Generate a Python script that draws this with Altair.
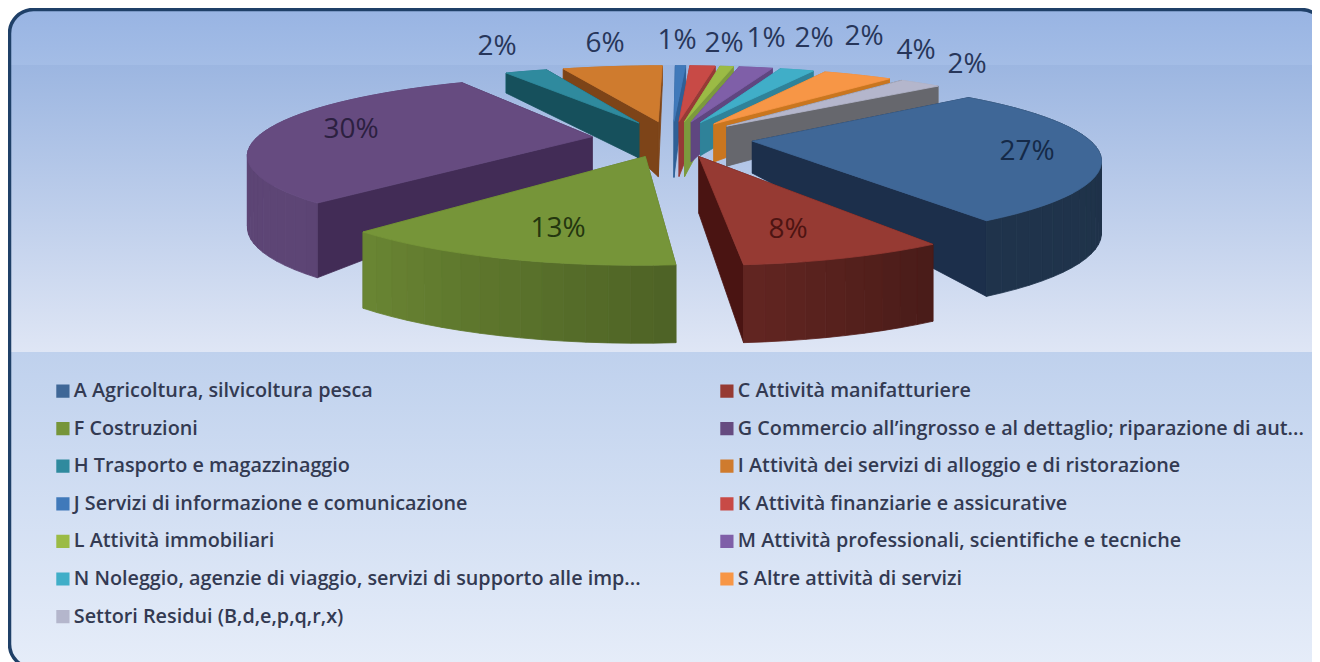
import math
import numpy as np
import pandas as pd
import altair as alt

# ---- chart data ----
categories = [
    "A Agricoltura, silvicoltura pesca", "C Attività manifatturiere", "F Costruzioni",
    "G Commercio all’ingrosso e al dettaglio; riparazione di aut...",
    "H Trasporto e magazzinaggio", "I Attività dei servizi di alloggio e di ristorazione",
    "J Servizi di informazione e comunicazione", "K Attività finanziarie e assicurative",
    "L Attività immobiliari", "M Attività professionali, scientifiche e tecniche",
    "N Noleggio, agenzie di viaggio, servizi di supporto alle imp...",
    "S Altre attività di servizi", "Settori Residui (B,d,e,p,q,r,x)",
]
# shares; percent_labels are the printed, rounded figures
values = [27.4, 7.6, 12.9, 30.1, 2.49, 5.9, 0.6, 1.5, 0.8, 2.0, 2.0, 4.1, 2.49]
percent_labels = ["27%", "8%", "13%", "30%", "2%", "6%", "1%", "2%", "1%", "2%", "2%", "4%", "2%"]
colors = ["#3f6797", "#963a33", "#769539", "#664b80", "#2f8a9e", "#cf7b2e", "#4079ba",
          "#c84a46", "#9bbb45", "#7f5fa8", "#40aec8", "#f79646", "#b4b6cc"]
wall_colors = ["#1c2f4b", "#4a1412", "#55692c", "#422c56", "#16505c", "#7d4418", "#2f5f96",
               "#963a36", "#7c9a3d", "#5f4680", "#2f8299", "#c9761f", "#66676d"]
label_colors = ["#152a48", "#4d1412", "#24360f", "#2c2040"] + ["#27365a"] * 9
apex_depth = [32, 57, 40, 35, 35, 55, 56, 55, 55, 40, 33, 38, 40]
label_x = [1027, 788, 558, 351, 497, 605, 677, 724, 766, 814, 864, 916, 967]
label_y = [152, 230, 229, 130, 47, 44, 41, 44, 39, 39, 37, 51, 65]

# ---- 3D pie geometry (angles clockwise from the back of the pie) ----
START, EXPLODE = 49.0, 0.24
CX, CY, AX, BY, KY, KX = 672.0, 138.5, 336.0, 75.0, 0.223, 0.20
draw_order = [5, 4, 6, 7, 8, 9, 10, 11, 12, 3, 0, 1, 2]


def shade(hex_color, f):
    r, g, b = (int(hex_color[i:i + 2], 16) for i in (1, 3, 5))
    return "#%02x%02x%02x" % (int(r * f), int(g * f), int(b * f))


def proj(u, v, d=0.0):
    return CX + AX * u / (1 - KX * v), CY + BY * v / (1 - KY * v) + d


def rim_depth(v):
    return float(np.interp(v, [-1.24, -0.9, 0, 1.24], [20, 20, 70, 78]))


faces, pid = [], 0


def add_face(points, fill, cat):
    global pid
    for i, (x, y) in enumerate(list(points) + [points[0]]):
        faces.append({"pid": pid, "seq": i, "px": x, "py": y, "fill": fill, "cat": cat})
    pid += 1


cum = np.cumsum([0] + values) * 100 / sum(values)
for idx in draw_order:
    a0 = START + cum[idx] * 3.6
    a1 = START + cum[idx + 1] * 3.6
    mid = math.radians((a0 + a1) / 2)
    ou, ov = EXPLODE * math.sin(mid), -EXPLODE * math.cos(mid)
    angs = np.linspace(a0, a1, max(2, int((a1 - a0) / 3) + 2))
    rim = [(ou + math.sin(math.radians(a)), ov - math.cos(math.radians(a))) for a in angs]
    sides = []
    for (u, v) in (rim[0], rim[-1]):
        pts = [proj(ou, ov), proj(u, v), proj(u, v, rim_depth(v)), proj(ou, ov, apex_depth[idx])]
        sides.append(((ov + v) / 2, pts, wall_colors[idx]))
    for j in range(len(rim) - 1):
        (u0, v0), (u1, v1) = rim[j], rim[j + 1]
        pts = [proj(u0, v0), proj(u1, v1), proj(u1, v1, rim_depth(v1)), proj(u0, v0, rim_depth(v0))]
        am = float(angs[j] + angs[j + 1]) / 2
        f = float(np.interp(am, [0, 150, 175, 225, 360], [0.48, 0.5, 0.66, 0.92, 0.92]))
        sides.append(((v0 + v1) / 2 + 0.001, pts, shade(colors[idx], f)))
    for _, pts, fill in sorted(sides, key=lambda t: t[0]):
        add_face(pts, fill, categories[idx])
    add_face([proj(ou, ov)] + [proj(u, v) for u, v in rim], colors[idx], categories[idx])
faces = pd.DataFrame(faces)

# ---- scales work in the picture's pixel frame ----
xs = alt.Scale(domain=[8, 1312], range=[0, 1304], nice=False, zero=False)
ys = alt.Scale(domain=[8, 662], range=[0, 654], nice=False, zero=False)
X = lambda f: alt.X(f, type="quantitative", scale=xs, axis=None)
Y = lambda f: alt.Y(f, type="quantitative", scale=ys, axis=None)


def grad(c0, c1):
    return alt.Gradient(gradient="linear", x1=0, x2=0, y1=0, y2=1,
                        stops=[alt.GradientStop(color=c0, offset=0), alt.GradientStop(color=c1, offset=1)])


def band(y0, y1, c0, c1, **kw):
    d = pd.DataFrame({"a": [9.5], "b": [1325], "c": [y0], "d": [y1]})
    return alt.Chart(d).mark_rect(fill=grad(c0, c1), clip=True, **kw).encode(
        x=X("a"), x2="b", y=Y("c"), y2="d")


bg = [
    band(9, 67, "#98b4e3", "#a4bde6", cornerRadiusTopLeft=24, cornerRadiusTopRight=24),
    band(65, 353, "#9cb6e1", "#dfe6f5"),
    band(352, 668, "#bfd1ed", "#e6edf9", cornerRadiusBottomLeft=24, cornerRadiusBottomRight=24),
]
border = alt.Chart(pd.DataFrame({"a": [9.5], "b": [1325], "c": [9.5], "d": [668]})).mark_rect(
    fill="transparent", stroke="#1f4068", strokeWidth=3.5, cornerRadius=24, clip=True
).encode(x=X("a"), x2="b", y=Y("c"), y2="d")

pie = alt.Chart(faces).mark_line(filled=True, strokeWidth=0.8, interpolate="linear").encode(
    x=X("px"), y=Y("py"), order="seq:Q", detail="pid:N",
    fill=alt.Fill("fill:N", scale=None), stroke=alt.Stroke("fill:N", scale=None),
)

labels = pd.DataFrame({"x": label_x, "y": label_y, "t": percent_labels, "c": label_colors})
text = alt.Chart(labels).mark_text(font="Open Sans", fontSize=28, align="center", baseline="middle").encode(
    x=X("x"), y=Y("y"), text="t:N", fill=alt.Fill("c:N", scale=None))

legend_src = pd.DataFrame({"cat": categories, "x": [-50] * 13, "y": [-50] * 13})
legend = alt.Chart(legend_src).mark_square(size=0, clip=True, opacity=1).encode(
    x=X("x"), y=Y("y"),
    fill=alt.Fill("cat:N", scale=alt.Scale(domain=categories, range=colors),
                  legend=alt.Legend(title=None, orient="none", legendX=45, legendY=374, columns=2,
                                    direction="horizontal", symbolType="square", symbolSize=175,
                                    symbolStrokeWidth=0, symbolOpacity=1, labelFont="Open Sans", labelFontSize=19.8,
                                    labelFontWeight=600, labelColor="#333a52", labelLimit=700,
                                    labelOffset=1, rowPadding=17.6, columnPadding=76, clipHeight=18,
                                    gridAlign="each")),
)

chart = alt.layer(*bg, pie, border, text, legend).properties(
    width=1304, height=654, padding=0, autosize=alt.AutoSizeParams(type="none"), background="white"
).configure_view(stroke=None).resolve_scale(fill="independent")
chart.save("out.html", embed_options={"renderer": "svg", "actions": False})
